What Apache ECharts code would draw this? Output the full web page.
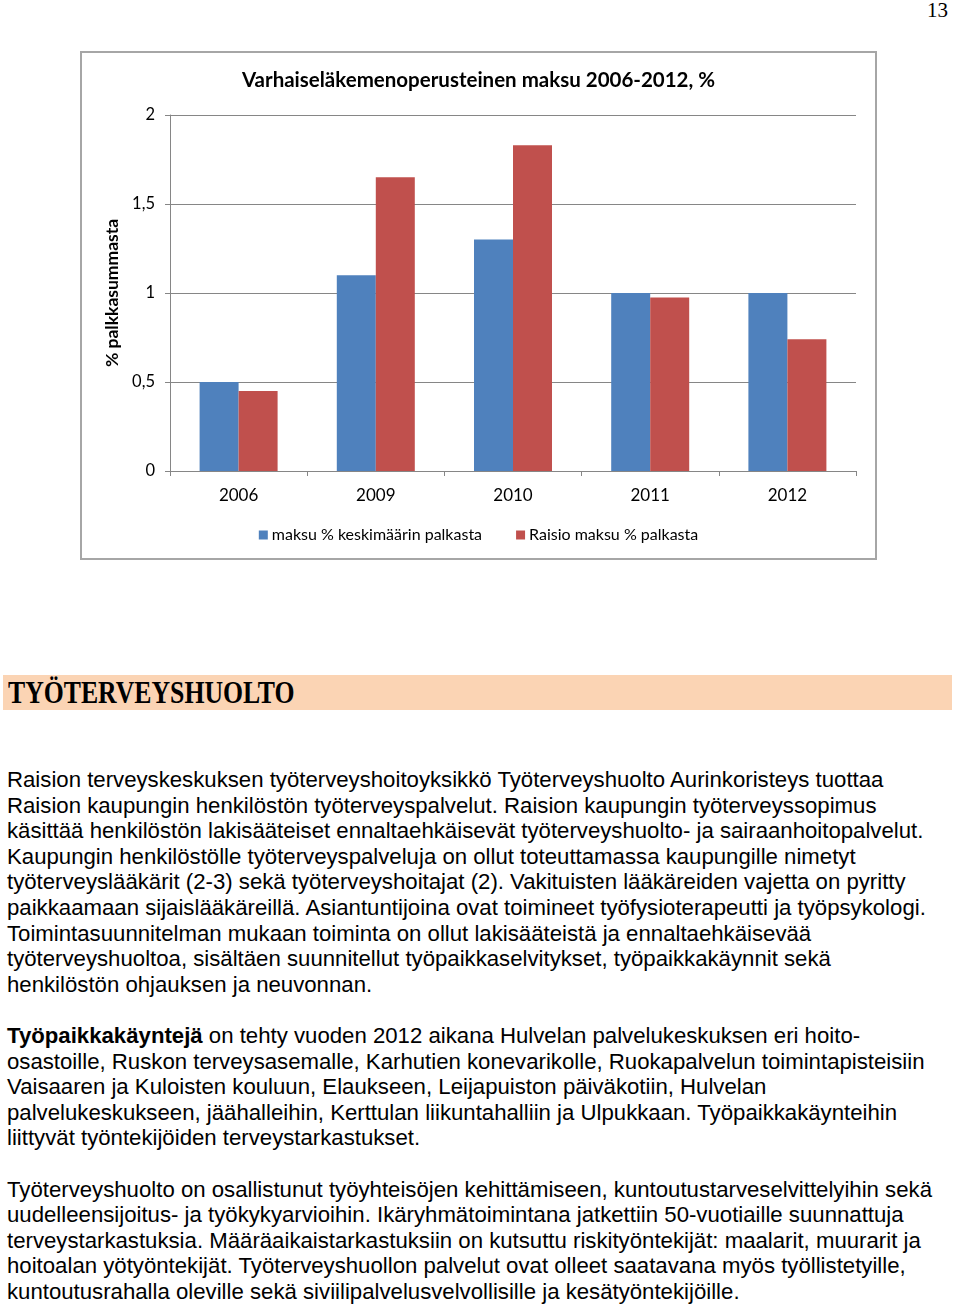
<!DOCTYPE html>
<html>
<head>
<meta charset="utf-8">
<script src="https://cdn.jsdelivr.net/npm/echarts@6/dist/echarts.min.js"></script>
<style>
  html, body { margin:0; padding:0; background:#fff; }
  body { width:960px; height:1304px; position:relative; overflow:hidden; }
  #pagenum { position:absolute; right:12px; top:-2px; font-family:"Liberation Serif", serif; font-size:21px; color:#000; }
  #chart { position:absolute; left:80px; top:51px; width:797px; height:509px; box-sizing:border-box; border:2px solid #a6a6a6; }
  #band { position:absolute; left:3px; top:675px; width:949px; height:35px; background:#fbd4b4; }
  #band span { position:absolute; left:5px; top:1px; font-family:"Liberation Serif", serif; font-weight:bold; font-size:31px; line-height:34px; display:inline-block; transform:scaleX(0.83); transform-origin:left center; color:#000; }
  #text { position:absolute; left:7px; top:767px; font-family:"Liberation Sans", Arial, sans-serif; font-size:22.2px; line-height:25.6px; color:#000; white-space:nowrap; }
</style>
</head>
<body>
<div id="pagenum">13</div>
<div id="chart"></div>
<div id="band"><span>TYÖTERVEYSHUOLTO</span></div>
<div id="text">
Raision terveyskeskuksen työterveyshoitoyksikkö Työterveyshuolto Aurinkoristeys tuottaa<br>
Raision kaupungin henkilöstön työterveyspalvelut. Raision kaupungin työterveyssopimus<br>
käsittää henkilöstön lakisääteiset ennaltaehkäisevät työterveyshuolto- ja sairaanhoitopalvelut.<br>
Kaupungin henkilöstölle työterveyspalveluja on ollut toteuttamassa kaupungille nimetyt<br>
työterveyslääkärit (2-3) sekä työterveyshoitajat (2). Vakituisten lääkäreiden vajetta on pyritty<br>
paikkaamaan sijaislääkäreillä. Asiantuntijoina ovat toimineet työfysioterapeutti ja työpsykologi.<br>
Toimintasuunnitelman mukaan toiminta on ollut lakisääteistä ja ennaltaehkäisevää<br>
työterveyshuoltoa, sisältäen suunnitellut työpaikkaselvitykset, työpaikkakäynnit sekä<br>
henkilöstön ohjauksen ja neuvonnan.<br>
<br>
<b>Työpaikkakäyntejä</b> on tehty vuoden 2012 aikana Hulvelan palvelukeskuksen eri hoito-<br>
osastoille, Ruskon terveysasemalle, Karhutien konevarikolle, Ruokapalvelun toimintapisteisiin<br>
Vaisaaren ja Kuloisten kouluun, Elaukseen, Leijapuiston päiväkotiin, Hulvelan<br>
palvelukeskukseen, jäähalleihin, Kerttulan liikuntahalliin ja Ulpukkaan. Työpaikkakäynteihin<br>
liittyvät työntekijöiden terveystarkastukset.<br>
<br>
Työterveyshuolto on osallistunut työyhteisöjen kehittämiseen, kuntoutustarveselvittelyihin sekä<br>
uudelleensijoitus- ja työkykyarvioihin. Ikäryhmätoimintana jatkettiin 50-vuotiaille suunnattuja<br>
terveystarkastuksia. Määräaikaistarkastuksiin on kutsuttu riskityöntekijät: maalarit, muurarit ja<br>
hoitoalan yötyöntekijät. Työterveyshuollon palvelut ovat olleet saatavana myös työllistetyille,<br>
kuntoutusrahalla oleville sekä siviilipalvelusvelvollisille ja kesätyöntekijöille.
</div>
<script>
const chartTitle = "Varhaiseläkemenoperusteinen maksu 2006-2012, %";
const yAxisName = "% palkkasummasta";
const categories = ["2006", "2009", "2010", "2011", "2012"];
const seriesNames = ["maksu % keskimäärin palkasta", "Raisio maksu % palkasta"];
const avgValues = [0.5, 1.1, 1.3, 1.0, 1.0];
const raisioValues = [0.45, 1.65, 1.83, 0.975, 0.74];
const yTicks = [0, 0.5, 1, 1.5, 2];

const chart = echarts.init(document.getElementById('chart'), null, {renderer:'canvas'});
const font = 'Lato, "Open Sans", sans-serif';
chart.setOption({
  animation: false,
  title: {
    text: chartTitle, left: 'center', top: 12,
    textStyle: { fontFamily: font, fontWeight: 'bold', fontSize: 20.5, color: '#000' }
  },
  legend: {
    bottom: 10, left: 'center', itemWidth: 9, itemHeight: 9, itemGap: 34, icon: 'rect',
    textStyle: { fontFamily: font, fontSize: 16, color: '#000', padding: [0,0,0,-1] },
    data: seriesNames
  },
  grid: { left: 88, right: 19, top: 62, bottom: 87, containLabel: false },
  xAxis: {
    type: 'category', data: categories, boundaryGap: true,
    axisLine: { lineStyle: { color: '#868686', width: 1 } },
    axisTick: { show: true, length: 5, inside: false, alignWithLabel: false, lineStyle: { color: '#868686' } },
    axisLabel: { margin: 16, fontFamily: font, fontSize: 17, color: '#000' }
  },
  yAxis: {
    type: 'value', min: 0, max: 2, interval: 0.5,
    name: yAxisName, nameLocation: 'middle', nameGap: 46, nameRotate: 90,
    nameTextStyle: { fontFamily: font, fontWeight: 'bold', fontSize: 17.5, color: '#000' },
    axisLine: { show: true, lineStyle: { color: '#868686' } },
    axisTick: { show: true, length: 5, lineStyle: { color: '#868686' } },
    splitLine: { lineStyle: { color: '#868686', width: 1 } },
    axisLabel: {
      margin: 15, fontFamily: font, fontSize: 16.5, color: '#000',
      formatter: v => yTicks.includes(v) ? String(v).replace('.', ',') : ''
    }
  },
  series: [
    { name: seriesNames[0], type: 'bar', data: avgValues, barWidth: 39, barGap: '0%',
      itemStyle: { color: '#4f81bd' } },
    { name: seriesNames[1], type: 'bar', data: raisioValues, barWidth: 39, barGap: '0%',
      itemStyle: { color: '#c0504d' } }
  ]
});
</script>
</body>
</html>
